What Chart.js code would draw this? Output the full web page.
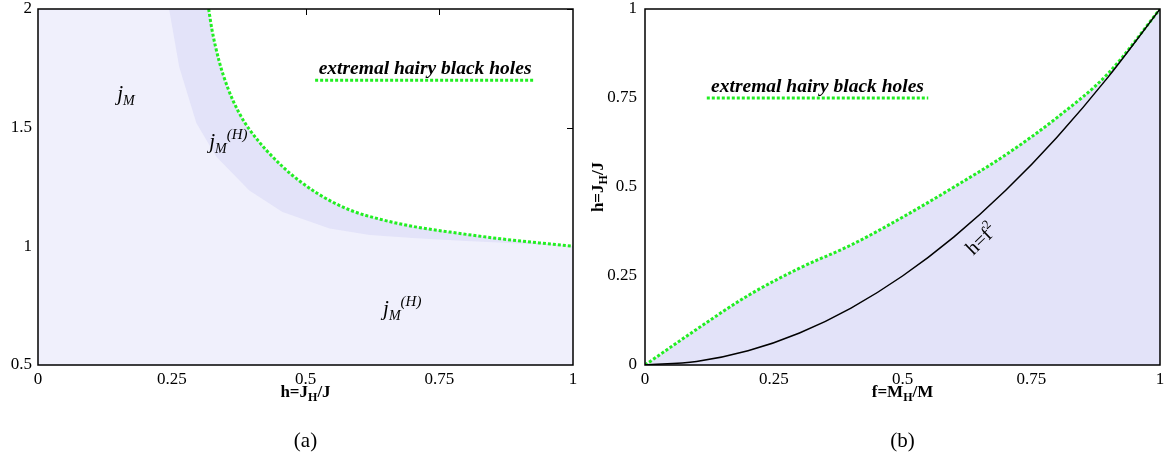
<!DOCTYPE html>
<html>
<head>
<meta charset="utf-8">
<script src="https://cdn.jsdelivr.net/npm/chart.js@4.4.1/dist/chart.umd.min.js"></script>
<style>
  html, body { margin: 0; padding: 0; background: #fff; }
  #wrap { position: relative; width: 1172px; height: 467px; }
  canvas { position: absolute; top: 0; }
  #left { left: 0; width: 590px; height: 467px; }
  #right { left: 590px; width: 582px; height: 467px; }
</style>
</head>
<body>
<div id="wrap">
  <canvas id="left" width="590" height="467"></canvas>
  <canvas id="right" width="582" height="467"></canvas>
</div>
<script>
// (a) j_M against h = J_H/J
const hTicks = [0, 0.25, 0.5, 0.75, 1];
const jTicks = [0.5, 1, 1.5, 2];
const extremalH = [0.319, 0.325, 0.338, 0.355, 0.375, 0.396, 0.458, 0.521, 0.583, 0.645, 0.708, 0.770, 0.864, 1.0];
const extremalJ = [2.0, 1.915, 1.785, 1.666, 1.566, 1.49, 1.334, 1.225, 1.153, 1.111, 1.081, 1.060, 1.032, 1.0];
// lower edge of the darker j_M^(H) band
const bandH = [0.245, 0.264, 0.296, 0.333, 0.395, 0.457, 0.545, 0.62, 0.70, 0.80, 0.90, 1.0];
const bandJ = [2.0, 1.756, 1.52, 1.378, 1.235, 1.145, 1.075, 1.048, 1.035, 1.022, 1.012, 1.0];

// (b) h = J_H/J against f = M_H/M
const fTicks = [0, 0.25, 0.5, 0.75, 1];
const hbTicks = [0, 0.25, 0.5, 0.75, 1];
const extremalF = [0, 0.1, 0.2, 0.3, 0.4, 0.5, 0.6, 0.7, 0.8, 0.9, 1];
const extremalHb = [0, 0.10, 0.195, 0.272, 0.337, 0.415, 0.50, 0.59, 0.695, 0.82, 1.0];
const parabolaF = [0, 0.1, 0.2, 0.3, 0.4, 0.5, 0.6, 0.7, 0.8, 0.9, 1];
const parabolaH = [0, 0.01, 0.04, 0.09, 0.16, 0.25, 0.36, 0.49, 0.64, 0.81, 1];

const GREEN = '#22ee22';
const LAVENDER = '#f0f0fc';
const LAVENDER_DARK = '#e3e3f9';
const SERIF = '"Liberation Serif", "DejaVu Serif", serif';
const f = (style, size) => `${style} ${size}px ${SERIF}`;

Chart.defaults.font.family = SERIF;
Chart.defaults.font.size = 17;
Chart.defaults.color = '#000';

function pts(xs, ys) {
  return xs.map((x, i) => ({ x, y: ys[i] }));
}

// text made of runs with their own font and baseline shift
function richWidth(ctx, parts) {
  let w = 0;
  for (const [t, font] of parts) { ctx.font = font; w += ctx.measureText(t).width; }
  return w;
}
function drawRich(ctx, x, y, parts) {
  let cx = x;
  ctx.textBaseline = 'alphabetic';
  ctx.textAlign = 'left';
  for (const [t, font, dy] of parts) {
    ctx.font = font;
    ctx.fillText(t, cx, y + (dy || 0));
    cx += ctx.measureText(t).width;
  }
}
function drawRichCentered(ctx, x, y, parts) {
  drawRich(ctx, x - richWidth(ctx, parts) / 2, y, parts);
}

function jM() {
  return [['j', f('italic', 21)], ['M', f('italic', 14), 5]];
}
function jMH() {
  return [['j', f('italic', 21)], ['M', f('italic', 14), 5], ['(H)', f('italic', 15), -9]];
}
function axisTitle(a, sub, b) {
  return [[a, f('bold', 17)], [sub, f('bold', 12), 4], [b, f('bold', 17)]];
}

function keyEntry(chart, x0, x1, y, text) {
  const ctx = chart.ctx, xs = chart.scales.x, ys = chart.scales.y;
  const px0 = xs.getPixelForValue(x0), px1 = xs.getPixelForValue(x1);
  const py = ys.getPixelForValue(y);
  ctx.save();
  ctx.strokeStyle = GREEN;
  ctx.lineWidth = 3;
  ctx.setLineDash([3, 2]);
  ctx.beginPath();
  ctx.moveTo(px0, py);
  ctx.lineTo(px1, py);
  ctx.stroke();
  ctx.setLineDash([]);
  ctx.fillStyle = '#000';
  drawRichCentered(ctx, (px0 + px1) / 2, py - 6, [[text, f('italic bold', 19.5)]]);
  ctx.restore();
}

function framePlugin(cfg) {
  return {
    id: 'frame',
    beforeDatasetsDraw(chart) {
      if (!cfg.bg) return;
      const a = chart.chartArea, ctx = chart.ctx;
      ctx.save();
      ctx.fillStyle = cfg.bg;
      ctx.fillRect(a.left, a.top, a.right - a.left, a.bottom - a.top);
      ctx.restore();
    },
    afterDatasetsDraw(chart) {
      const a = chart.chartArea, ctx = chart.ctx;
      const xs = chart.scales.x, ys = chart.scales.y;
      const L = 6;
      const marks = [];
      xs.ticks.forEach(t => {
        const px = Math.round(xs.getPixelForValue(t.value)) + 0.5;
        marks.push([px, a.bottom, px, a.bottom - L, px, a.bottom - 3]);
        marks.push([px, a.top, px, a.top + L, px, a.top + 3]);
      });
      ys.ticks.forEach(t => {
        const py = Math.round(ys.getPixelForValue(t.value)) + 0.5;
        marks.push([a.left, py, a.left + L, py, a.left + 3, py]);
        marks.push([a.right, py, a.right - L, py, a.right - 3, py]);
      });
      // inward ticks stay hidden under the shaded regions
      const shown = marks.filter(m => {
        const d = ctx.getImageData(Math.floor(m[4]), Math.floor(m[5]), 1, 1).data;
        return d[0] > 250 && d[1] > 250 && d[2] > 250;
      });
      ctx.save();
      ctx.strokeStyle = '#000';
      ctx.lineWidth = 1;
      ctx.beginPath();
      shown.forEach(m => { ctx.moveTo(m[0], m[1]); ctx.lineTo(m[2], m[3]); });
      ctx.stroke();
      ctx.lineWidth = 1.5;
      ctx.strokeRect(a.left, a.top, a.right - a.left, a.bottom - a.top);
      ctx.restore();
    },
    afterDraw(chart) {
      const ctx = chart.ctx, a = chart.chartArea;
      ctx.save();
      ctx.fillStyle = '#000';
      drawRichCentered(ctx, (a.left + a.right) / 2, 397, cfg.xTitle);
      ctx.font = f('', 21);
      ctx.textAlign = 'center';
      ctx.textBaseline = 'middle';
      ctx.fillText(cfg.caption, (a.left + a.right) / 2, 441);
      cfg.draw(chart, ctx);
      ctx.restore();
    }
  };
}

function scaleOpts(min, max, ticks, pad, size) {
  return {
    type: 'linear', min, max,
    grid: { display: false, drawTicks: false },
    border: { display: false },
    ticks: { padding: pad, autoSkip: false, maxRotation: 0, callback: v => String(v) },
    afterBuildTicks: s => { s.ticks = ticks.map(v => ({ value: v })); },
    afterFit: s => {
      if (s.isHorizontal()) s.height = size; else s.width = size;
      s.paddingTop = s.paddingBottom = s.paddingLeft = s.paddingRight = 0;
    }
  };
}

const common = {
  responsive: false,
  animation: false,
  events: [],
  plugins: { legend: { display: false }, tooltip: { enabled: false } }
};

// (a)
new Chart(document.getElementById('left'), {
  type: 'line',
  data: {
    datasets: [
      {
        data: pts(extremalH, extremalJ),
        borderColor: GREEN, borderWidth: 3, borderDash: [3, 2],
        fill: 'end', backgroundColor: '#ffffff',
        pointRadius: 0, cubicInterpolationMode: 'monotone'
      },
      {
        data: pts(bandH, bandJ),
        borderColor: 'rgba(0,0,0,0)', borderWidth: 0,
        fill: 'end', backgroundColor: LAVENDER_DARK,
        pointRadius: 0, tension: 0
      }
    ]
  },
  options: {
    ...common,
    layout: { padding: { top: 9, right: 17, left: 0, bottom: 0 } },
    scales: {
      x: scaleOpts(0, 1, hTicks, 4, 102),
      y: scaleOpts(0.5, 2, jTicks, 6, 38)
    }
  },
  plugins: [framePlugin({
    bg: LAVENDER,
    caption: '(a)',
    xTitle: axisTitle('h=J', 'H', '/J'),
    draw(chart, ctx) {
      const xs = chart.scales.x, ys = chart.scales.y;
      drawRich(ctx, xs.getPixelForValue(0.148), ys.getPixelForValue(1.617), jM());
      drawRich(ctx, xs.getPixelForValue(0.32), ys.getPixelForValue(1.414), jMH());
      drawRich(ctx, xs.getPixelForValue(0.645), ys.getPixelForValue(0.711), jMH());
      keyEntry(chart, 0.518, 0.929, 1.70, 'extremal hairy black holes');
    }
  })]
});

// (b)
new Chart(document.getElementById('right'), {
  type: 'line',
  data: {
    datasets: [
      {
        data: pts(parabolaF, parabolaH),
        borderColor: '#000', borderWidth: 1.5,
        fill: false, pointRadius: 0, cubicInterpolationMode: 'monotone'
      },
      {
        data: pts(extremalF, extremalHb),
        borderColor: GREEN, borderWidth: 3, borderDash: [3, 2],
        fill: 'origin', backgroundColor: LAVENDER_DARK,
        pointRadius: 0, cubicInterpolationMode: 'monotone'
      }
    ]
  },
  options: {
    ...common,
    layout: { padding: { top: 9, right: 12, left: 0, bottom: 0 } },
    scales: {
      x: scaleOpts(0, 1, fTicks, 4, 102),
      y: scaleOpts(0, 1, hbTicks, 8, 55)
    }
  },
  plugins: [framePlugin({
    caption: '(b)',
    xTitle: axisTitle('f=M', 'H', '/M'),
    draw(chart, ctx) {
      const xs = chart.scales.x, ys = chart.scales.y;
      // vertical axis title
      ctx.save();
      ctx.translate(13, ys.getPixelForValue(0.5));
      ctx.rotate(-Math.PI / 2);
      drawRichCentered(ctx, 0, 0, axisTitle('h=J', 'H', '/J'));
      ctx.restore();
      // label along the h = f^2 curve
      const p0 = { x: xs.getPixelForValue(parabolaF[6]), y: ys.getPixelForValue(parabolaH[6]) };
      const p1 = { x: xs.getPixelForValue(parabolaF[8]), y: ys.getPixelForValue(parabolaH[8]) };
      const ang = Math.atan2(p1.y - p0.y, p1.x - p0.x);
      ctx.save();
      ctx.translate(xs.getPixelForValue(0.652), ys.getPixelForValue(0.355));
      ctx.rotate(ang);
      drawRichCentered(ctx, 0, 7, [['h=f', f('', 20)], ['2', f('', 13), -9]]);
      ctx.restore();
      keyEntry(chart, 0.12, 0.55, 0.75, 'extremal hairy black holes');
    }
  })]
});
</script>
</body>
</html>
